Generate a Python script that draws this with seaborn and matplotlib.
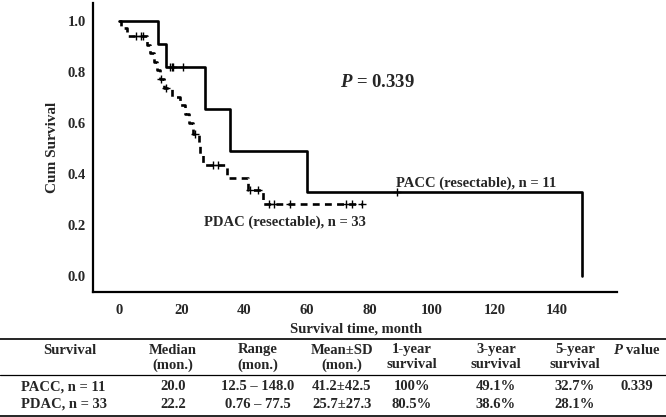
import matplotlib
matplotlib.use("Agg")
import matplotlib.pyplot as plt
import numpy as np
import pandas as pd
import seaborn as sns
from matplotlib.lines import Line2D

# --- Kaplan-Meier step data ---
pacc_times = [0, 12.5, 15.0, 27.5, 35.5, 60.0, 148.0]
pacc_surv = [1.0, 0.909, 0.818, 0.655, 0.491, 0.327, 0.0]
pacc_cens_t = [16.3, 17.0, 17.4, 20.3, 88.7]
pacc_cens_s = [0.818, 0.818, 0.818, 0.818, 0.327]

pdac_times = [0, 0.76, 2.5, 9.0, 10.0, 11.2, 12.0, 13.0, 14.5, 17.0, 19.5,
              21.0, 22.5, 23.5, 25.5, 26.0, 26.8, 34.5, 41.2, 46.0, 77.5]
pdac_surv = [1.0, 0.970, 0.939, 0.906, 0.872, 0.838, 0.805, 0.771, 0.737,
             0.702, 0.668, 0.633, 0.598, 0.557, 0.520, 0.478, 0.435, 0.384,
             0.336, 0.281, 0.281]
pdac_cens_t = [5.5, 7.0, 7.8, 13.5, 15.0, 24.3, 30.0, 31.6, 42.0, 44.5,
               48.0, 49.5, 54.5, 72.5, 74.5, 77.5]
pdac_cens_s = [0.939, 0.939, 0.939, 0.771, 0.737, 0.557, 0.435, 0.435,
               0.336, 0.336, 0.281, 0.281, 0.281, 0.281, 0.281, 0.281]

x_ticks = [0, 20, 40, 60, 80, 100, 120, 140]
y_ticks = [0.0, 0.2, 0.4, 0.6, 0.8, 1.0]

# --- summary table ---
table_header1 = ["Survival", "Median", "Range", "Mean\u00b1SD", "1-year", "3-year", "5-year", "$P$ value"]
table_header2 = ["", "(mon.)", "(mon.)", "(mon.)", "survival", "survival", "survival", ""]
row_pacc = ["PACC, n = 11", "20.0", "12.5 \u2013 148.0", "41.2\u00b142.5", "100%", "49.1%", "32.7%", "0.339"]
row_pdac = ["PDAC, n = 33", "22.2", "0.76 \u2013 77.5", "25.7\u00b127.3", "80.5%", "38.6%", "28.1%", ""]

sns.set_style("white")
plt.rcParams["font.family"] = ["Liberation Serif", "DejaVu Serif"]
plt.rcParams["font.weight"] = "bold"
plt.rcParams["mathtext.fontset"] = "custom"
plt.rcParams["mathtext.it"] = "Liberation Serif:italic:bold"
plt.rcParams["mathtext.rm"] = "Liberation Serif:bold"

curves = pd.concat([
    pd.DataFrame({"time": pacc_times, "surv": pacc_surv, "group": "PACC"}),
    pd.DataFrame({"time": pdac_times, "surv": pdac_surv, "group": "PDAC"}),
])
cens = pd.concat([
    pd.DataFrame({"time": pacc_cens_t, "surv": pacc_cens_s, "group": "PACC"}),
    pd.DataFrame({"time": pdac_cens_t, "surv": pdac_cens_s, "group": "PDAC"}),
])

fig = plt.figure(figsize=(6.66, 4.17), dpi=100)
ax = fig.add_axes([93 / 666, 1 - 292 / 417, 524 / 666, 289 / 417])

sns.lineplot(data=curves, x="time", y="surv", style="group",
             dashes={"PACC": "", "PDAC": (2.6, 2.0)}, drawstyle="steps-post",
             estimator=None, color="black", linewidth=1.9, legend=False, ax=ax)
sns.scatterplot(data=cens, x="time", y="surv", marker="+", color="black",
                s=30, linewidth=1.0, legend=False, ax=ax)

ax.set_xlim(-8.3, 159.1)
ax.set_ylim(-0.063, 1.069)
ax.set_xticks(x_ticks)
ax.set_yticks(y_ticks)
ax.set_yticklabels([f"{v:.1f}" for v in y_ticks])
ax.tick_params(length=0, labelsize=10.5, pad=5)
ax.tick_params(axis="x", pad=9)
for side in ["top", "right"]:
    ax.spines[side].set_visible(False)
for side in ["left", "bottom"]:
    ax.spines[side].set_linewidth(1.6)
    ax.spines[side].set_color("black")
ax.set_xlabel("")
ax.set_ylabel("Cum Survival", fontsize=11, fontweight="bold", labelpad=6)

ax.text(70.6, 0.756, "$P$ = 0.339", fontsize=13.5, fontweight="bold", va="center")
ax.text(88.5, 0.335, "PACC (resectable), n = 11", fontsize=10.5, fontweight="bold", va="bottom")
ax.text(27.2, 0.212, "PDAC (resectable), n = 33", fontsize=10.5, fontweight="bold", va="center")

fig.text(356 / 666, 1 - 329 / 417, "Survival time, month", ha="center", va="center",
         fontsize=10.5, fontweight="bold")

# table lines
for ypix, lw in [(339, 1.2), (375, 0.9), (416, 1.2)]:
    yf = 1 - ypix / 417
    fig.add_artist(Line2D([0, 1], [yf, yf], color="black", linewidth=lw, transform=fig.transFigure))

col_x = [70, 173, 258, 342, 412, 496, 575, 637]
for i, cx in enumerate(col_x):
    fig.text(cx / 666, 1 - 350 / 417, table_header1[i], ha="center", va="center", fontsize=10.5, fontweight="bold")
    if table_header2[i]:
        fig.text(cx / 666, 1 - 365 / 417, table_header2[i], ha="center", va="center", fontsize=10.5, fontweight="bold")
for row, ypix in [(row_pacc, 387), (row_pdac, 404)]:
    fig.text(21 / 666, 1 - ypix / 417, row[0], ha="left", va="center", fontsize=10.5, fontweight="bold")
    for i in range(1, len(row)):
        fig.text(col_x[i] / 666, 1 - ypix / 417, row[i], ha="center", va="center", fontsize=10.5, fontweight="bold")

fig.savefig("out.png", dpi=100)
